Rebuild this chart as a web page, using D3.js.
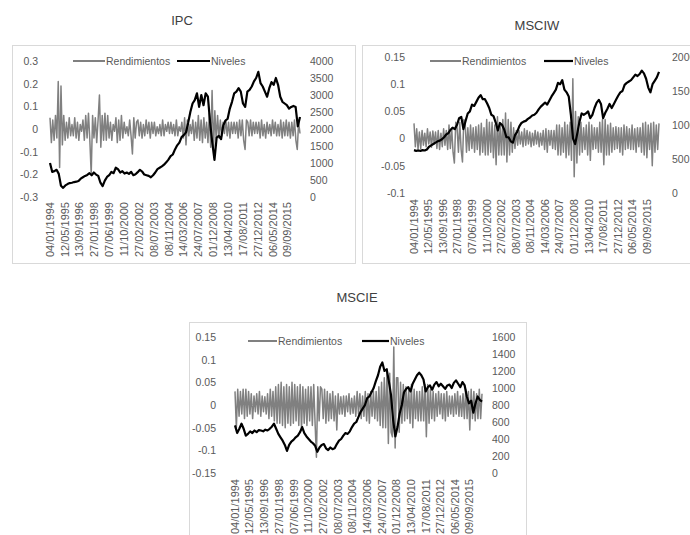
<!DOCTYPE html>
<html><head><meta charset="utf-8">
<script src="https://cdn.jsdelivr.net/npm/d3@7"></script>
<style>
body{margin:0;background:#fff}
svg{display:block}
text{font-family:"Liberation Sans",Arial,sans-serif;fill:#595959}
</style>
</head><body>
<svg id="c" width="690" height="535"></svg>
<script>
// ---------- DATA ----------
const dateLabels = ["04/01/1994","12/05/1995","13/09/1996","27/01/1998","07/06/1999","11/10/2000","27/02/2002","08/07/2003","08/11/2004","14/03/2006","24/07/2007","01/12/2008","13/04/2010","17/08/2011","27/12/2012","06/05/2014","09/09/2015"];
const firstDate = "04/01/1994";
const lastDate = "31/10/2016";
const seriesNames = ["Rendimientos","Niveles"];
const titles = ["IPC","MSCIW","MSCIE"];

const ipcLeftTicks = [-0.3,-0.2,-0.1,0,0.1,0.2,0.3];
const ipcRightTicks = [0,500,1000,1500,2000,2500,3000,3500,4000];
const msciwLeftTicks = [-0.1,-0.05,0,0.05,0.1,0.15];
const msciwRightTicks = [0,500,1000,1500,2000];
const mscieLeftTicks = [-0.15,-0.1,-0.05,0,0.05,0.1,0.15];
const mscieRightTicks = [0,200,400,600,800,1000,1200,1400,1600];

// Niveles: 5 values per year, 1994.0 .. 2016.8
const ipcLevels = [
1000,740,760,800,680, 330,270,340,380,410, 420,440,450,470,540, 580,620,650,700,640,
720,660,620,420,320, 480,590,640,740,700, 860,820,720,760,690, 720,680,740,640,670,
730,800,750,660,640, 620,580,640,720,820, 860,900,950,1020,1100, 1200,1250,1400,1520,1600,
1760,1820,1900,2180,2500, 2750,2850,3050,2650,3000, 2700,3050,2950,2200,1600, 1090,1750,1800,1700,2100,
2250,2300,2600,2800,3050, 3100,3200,3100,2750,2650, 3100,3150,3250,3400,3500, 3680,3350,3250,3100,2950,
3200,3380,3300,3500,3300, 2950,2800,2750,2700,2600, 2650,2680,2650,2080,2350];
const msciwLevels = [
630,620,625,620,630, 625,640,680,700,720, 740,760,770,790,820, 860,880,930,960,940,
1000,1100,1120,940,1060, 1170,1200,1300,1280,1340, 1400,1440,1380,1380,1320, 1250,1150,1130,1040,920,
1030,1000,930,820,820, 760,740,850,900,980, 1030,1050,1060,1090,1110, 1140,1150,1180,1230,1270,
1300,1330,1300,1360,1420, 1470,1520,1620,1600,1660, 1520,1480,1420,1150,800, 720,880,1050,1170,1150,
1170,1200,1100,1150,1250, 1330,1370,1310,1100,1180, 1240,1310,1250,1310,1370, 1430,1480,1500,1590,1620,
1640,1660,1700,1740,1720, 1750,1800,1760,1680,1550, 1480,1600,1650,1700,1780];
const mscieLevels = [
560,470,520,580,520, 440,460,490,470,500, 480,505,500,490,510, 500,520,545,580,520,
460,420,380,330,260, 330,370,390,420,440, 480,540,470,430,400, 370,350,320,250,300,
330,340,290,270,300, 280,290,340,380,400, 440,470,460,490,540, 580,600,660,720,760,
800,880,900,950,1000, 1080,1150,1250,1300,1200, 1220,1080,920,620,430, 540,700,800,950,990,
1010,960,1050,1100,1150, 1180,1150,1100,960,1010, 1030,980,1040,1070,1020, 1050,1020,990,1030,1040,
1000,1060,1090,1050,1010, 1070,1030,900,820,850, 710,820,900,860,840];

// Rendimientos: 8 values per year, 1994.0 .. 2016.75
const ipcReturns = [
0.05,-0.06,0.04,-0.05,0.06,-0.04,0.21,-0.17,
0.19,-0.07,0.06,-0.05,0.03,-0.04,0.05,-0.03,
0.02,-0.03,0.05,-0.04,0.03,-0.05,0.02,-0.01,
0.04,-0.05,0.06,-0.04,0.07,-0.05,-0.2,0.06,
-0.04,0.05,-0.06,0.04,0.15,-0.08,0.06,-0.05,
0.07,-0.05,0.06,-0.04,0.03,-0.05,0.02,-0.01,
0.05,-0.06,0.04,-0.05,0.06,-0.04,0.03,-0.02,
0.01,-0.03,0.04,-0.03,-0.11,0.05,-0.04,0.03,
0.04,-0.03,0.03,-0.04,0.02,-0.03,0.04,-0.02,
0.03,-0.04,0.03,-0.02,0.03,-0.03,0.01,-0.02,
0.02,-0.03,0.04,-0.03,0.02,-0.01,0.03,-0.02,
0.03,-0.02,0.02,-0.03,0.04,-0.03,0.01,-0.01,
0.03,-0.04,0.05,-0.07,0.04,-0.03,0.02,-0.02,
0.04,-0.05,0.03,-0.04,0.06,-0.05,0.04,-0.06,
0.05,-0.04,0.03,-0.06,0.07,-0.08,0.17,-0.09,
0.08,-0.05,0.06,-0.04,0.04,-0.03,0.03,-0.02,
0.04,-0.03,0.03,-0.04,0.03,-0.02,0.03,-0.02,
0.03,-0.04,0.04,-0.03,0.04,-0.05,-0.09,0.04,
0.03,-0.03,0.04,-0.03,0.03,-0.02,0.03,-0.02,
0.03,-0.04,0.04,-0.03,0.02,-0.04,0.03,-0.02,
0.02,-0.03,0.04,-0.02,0.03,-0.03,0.02,-0.03,
0.04,-0.04,0.03,-0.03,0.04,-0.03,0.03,-0.04,
0.03,-0.03,0.04,-0.05,-0.09,0.03,-0.02];
const msciwReturns = [
0.028,-0.015,0.018,-0.02,0.012,-0.018,0.015,-0.012,
0.01,-0.015,0.018,-0.01,0.012,-0.016,0.014,-0.01,
0.012,-0.018,0.015,-0.02,0.01,-0.015,0.018,-0.012,
0.015,-0.02,0.025,-0.018,0.02,-0.025,-0.045,0.03,
0.02,-0.025,0.03,-0.02,-0.043,0.035,0.03,-0.025,
0.02,-0.022,0.025,-0.018,0.02,-0.025,0.022,-0.02,
0.025,-0.03,0.028,-0.025,0.02,-0.03,0.035,-0.03,
0.03,-0.025,0.03,-0.035,0.025,-0.048,0.04,-0.03,
0.025,-0.03,0.035,-0.03,0.047,-0.043,0.035,-0.03,
0.03,-0.025,0.02,-0.018,0.015,-0.012,0.015,-0.01,
0.012,-0.015,0.018,-0.012,0.015,-0.01,0.012,-0.015,
0.01,-0.012,0.015,-0.01,0.012,-0.015,0.01,-0.012,
0.015,-0.02,0.018,-0.025,0.015,-0.012,0.015,-0.018,
0.015,-0.02,0.025,-0.03,0.025,-0.03,0.02,-0.025,
0.03,-0.035,0.025,-0.03,0.03,-0.04,0.11,-0.07,
0.05,-0.045,0.04,-0.03,0.03,-0.025,0.02,-0.02,
0.025,-0.03,0.03,-0.04,0.025,-0.02,0.02,-0.018,
0.02,-0.025,0.03,-0.025,0.035,-0.048,0.035,-0.03,
0.025,-0.03,0.028,-0.025,0.02,-0.02,0.022,-0.018,
0.02,-0.025,0.02,-0.03,0.025,-0.02,0.022,-0.018,
0.018,-0.02,0.025,-0.02,0.018,-0.025,0.02,-0.015,
0.02,-0.025,0.028,-0.03,0.03,-0.035,0.025,-0.02,
0.028,-0.05,0.03,-0.025,0.025,-0.02,0.028];
const mscieReturns = [
0.03,-0.05,0.035,-0.025,0.03,-0.02,0.035,-0.03,
0.035,-0.025,0.03,-0.02,0.025,-0.03,0.02,-0.015,
0.025,-0.02,0.03,-0.025,0.02,-0.015,0.018,-0.02,
0.025,-0.03,0.035,-0.025,0.03,-0.035,0.04,-0.04,
0.045,-0.04,0.05,-0.045,0.04,-0.05,0.045,-0.04,
0.04,-0.045,0.05,-0.04,0.045,-0.035,0.04,-0.045,
0.045,-0.055,0.04,-0.04,0.035,-0.045,0.04,-0.035,
0.04,-0.045,0.045,-0.04,-0.115,0.04,-0.035,0.04,
0.035,-0.03,0.035,-0.04,0.03,-0.035,0.025,-0.03,
0.03,-0.035,0.02,-0.055,0.025,-0.02,0.018,-0.02,
0.02,-0.025,0.02,-0.015,0.025,-0.02,0.015,-0.018,
0.02,-0.025,0.03,-0.02,0.025,-0.03,0.02,-0.025,
0.03,-0.035,0.025,-0.04,0.03,-0.025,0.03,-0.03,
0.03,-0.035,0.04,-0.045,0.05,-0.05,0.06,-0.05,
0.08,-0.085,0.07,-0.06,-0.07,0.128,-0.095,0.06,
0.06,-0.06,0.05,-0.04,0.045,-0.035,0.04,-0.03,
0.035,-0.04,0.045,-0.05,0.035,-0.03,0.03,-0.035,
0.03,-0.035,0.04,-0.035,0.045,-0.07,0.045,-0.04,
0.035,-0.03,0.03,-0.035,0.025,-0.025,0.03,-0.02,
0.025,-0.03,0.025,-0.035,0.03,-0.025,0.02,-0.02,
0.02,-0.025,0.025,-0.02,0.03,-0.025,0.02,-0.025,
0.025,-0.03,0.035,-0.03,0.03,-0.055,0.035,-0.03,
0.03,-0.035,0.025,-0.03,0.035,-0.03,0.025];

// ---------- LAYOUT ----------
const parseD = d3.timeParse("%d/%m/%Y");
const t0 = parseD(firstDate), t1 = parseD(lastDate);
const fmtLeft = d => d === 0 ? "0" : String(+d.toFixed(2));

const panels = [
  {title:titles[0], ret:ipcReturns, lev:ipcLevels, lt:ipcLeftTicks, rt:ipcRightTicks,
   box:[12.5,45.5,343,218], px:[50,300], py:[61,197], leftX:38, rightX:310, catTop:202,
   titleX:182, titleY:25, leg:{y:61, g:[73,105], b:[177,210]}},
  {title:titles[1], ret:msciwReturns, lev:msciwLevels, lt:msciwLeftTicks, rt:msciwRightTicks,
   box:[362.5,45.5,345,218], px:[414,659], py:[57,193], leftX:405, rightX:672, catTop:199,
   titleX:537, titleY:30, leg:{y:61, g:[430,461], b:[544,573]}},
  {title:titles[2], ret:mscieReturns, lev:mscieLevels, lt:mscieLeftTicks, rt:mscieRightTicks,
   box:[189.5,322.5,337,240], px:[235,482], py:[337,473], leftX:216, rightX:492, catTop:479,
   titleX:357, titleY:302, leg:{y:341, g:[248,277], b:[362,389]}}
];

const svg = d3.select("#c");
const GRAY = "#808080";

panels.forEach(p => {
  const g = svg.append("g");
  g.append("rect").attr("x",p.box[0]).attr("y",p.box[1]).attr("width",p.box[2]).attr("height",p.box[3])
    .attr("fill","#fff").attr("stroke","#d9d9d9").attr("stroke-width",1);
  g.append("text").attr("x",p.titleX).attr("y",p.titleY).attr("text-anchor","middle")
    .style("font-size","13px").style("fill","#404040").text(p.title);

  const x = d3.scaleTime().domain([t0,t1]).range(p.px);
  const yL = d3.scaleLinear().domain(d3.extent(p.lt)).range([p.py[1],p.py[0]]);
  const yR = d3.scaleLinear().domain(d3.extent(p.rt)).range([p.py[1],p.py[0]]);
  const dateAt = (i,n) => new Date(+t0 + i*(t1 - t0)/(n-1));

  const aL = g.append("g").attr("transform",`translate(${p.leftX},0)`)
    .call(d3.axisLeft(yL).tickValues(p.lt).tickFormat(fmtLeft).tickSize(0).tickPadding(0));
  aL.select(".domain").remove();
  aL.selectAll("text").style("font-size","10.5px").style("fill","#595959").style("font-family",'"Liberation Sans",Arial,sans-serif');

  const aR = g.append("g").attr("transform",`translate(${p.rightX},0)`)
    .call(d3.axisRight(yR).tickValues(p.rt).tickFormat(d3.format("d")).tickSize(0).tickPadding(0));
  aR.select(".domain").remove();
  aR.selectAll("text").style("font-size","10.5px").style("fill","#595959").style("font-family",'"Liberation Sans",Arial,sans-serif');

  g.selectAll("text.cat").data(dateLabels).join("text").attr("class","cat")
    .attr("transform", d => `translate(${x(parseD(d))},${p.catTop}) rotate(-90)`)
    .attr("text-anchor","end").attr("dy","0.35em")
    .style("font-size","11px").text(d => d);

  const lineR = d3.line().x((d,i)=>x(dateAt(i,p.ret.length))).y(d=>yL(d));
  const lineN = d3.line().x((d,i)=>x(dateAt(i,p.lev.length))).y(d=>yR(d));
  g.append("path").datum(p.ret).attr("d",lineR).attr("fill","none")
    .attr("stroke",GRAY).attr("stroke-width",1.5).attr("stroke-linejoin","round");
  g.append("path").datum(p.lev).attr("d",lineN).attr("fill","none")
    .attr("stroke","#000").attr("stroke-width",2.2).attr("stroke-linejoin","round");

  const lg = g.append("g");
  lg.append("line").attr("x1",p.leg.g[0]).attr("x2",p.leg.g[1]).attr("y1",p.leg.y).attr("y2",p.leg.y)
    .attr("stroke",GRAY).attr("stroke-width",2);
  lg.append("text").attr("x",p.leg.g[1]+1).attr("y",p.leg.y).attr("dy","0.35em")
    .style("font-size","10.5px").text(seriesNames[0]);
  lg.append("line").attr("x1",p.leg.b[0]).attr("x2",p.leg.b[1]).attr("y1",p.leg.y).attr("y2",p.leg.y)
    .attr("stroke","#000").attr("stroke-width",2.2);
  lg.append("text").attr("x",p.leg.b[1]+1).attr("y",p.leg.y).attr("dy","0.35em")
    .style("font-size","10.5px").text(seriesNames[1]);
});
</script>
</body></html>
